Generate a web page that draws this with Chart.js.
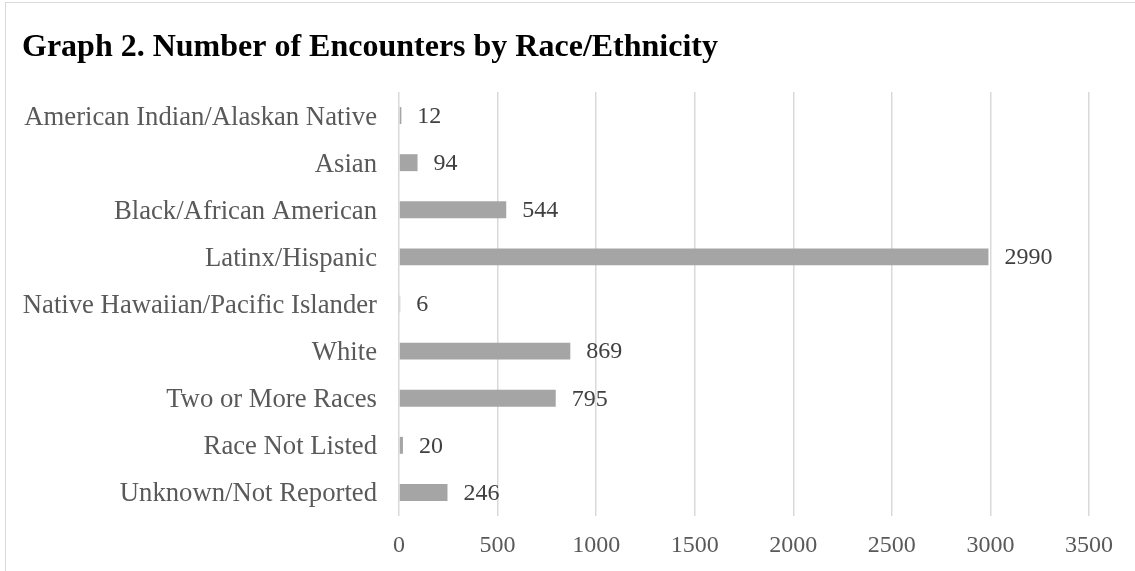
<!DOCTYPE html>
<html>
<head>
<meta charset="utf-8">
<script src="https://cdn.jsdelivr.net/npm/chart.js@4/dist/chart.umd.min.js"></script>
<style>
	html, body { margin: 0; padding: 0; overflow: hidden; background: #fff; }
	#frame { position: absolute; left: 5px; top: 2px; width: 1200px; height: 620px; border: 1.5px solid #d9d9d9; }
	#wrap { position: absolute; left: 0; top: 0; width: 1135px; height: 571px; }
</style>
</head>
<body>
<div id="frame"></div>
<div id="wrap"><canvas id="chart" width="1135" height="571"></canvas></div>
<script>
	const categories = [
		"American Indian/Alaskan Native",
		"Asian",
		"Black/African American",
		"Latinx/Hispanic",
		"Native Hawaiian/Pacific Islander",
		"White",
		"Two or More Races",
		"Race Not Listed",
		"Unknown/Not Reported",
	];
	const encounters = [12, 94, 544, 2990, 6, 869, 795, 20, 246];
	const xTicks = [0, 500, 1000, 1500, 2000, 2500, 3000, 3500];

	const serif = "'Liberation Serif', 'Times New Roman', serif";

	// value labels to the right of each bar
	const barLabels = {
		id: "barLabels",
		afterDatasetsDraw(chart) {
			const ctx = chart.ctx;
			const meta = chart.getDatasetMeta(0);
			ctx.save();
			ctx.font = "24px " + serif;
			ctx.fillStyle = "#404040";
			ctx.textAlign = "left";
			ctx.textBaseline = "middle";
			meta.data.forEach((bar, i) => {
				ctx.fillText(String(encounters[i]), bar.x + 16, bar.y + 1);
			});
			ctx.restore();
		},
	};

	new Chart(document.getElementById("chart"), {
		type: "bar",
		data: {
			labels: categories,
			datasets: [
				{
					label: "Encounters",
					data: encounters,
					backgroundColor: "#a5a5a5",
					categoryPercentage: 1,
					barPercentage: 0.36,
				},
			],
		},
		options: {
			indexAxis: "y",
			responsive: false,
			animation: false,
			layout: { padding: { left: 22, right: 46, top: 0, bottom: 0 } },
			plugins: {
				legend: { display: false },
				tooltip: { enabled: false },
				title: {
					display: true,
					text: "Graph 2. Number of Encounters by Race/Ethnicity",
					align: "start",
					color: "#000",
					font: { family: serif, size: 32, weight: "bold", lineHeight: 1.2 },
					padding: { top: 29, bottom: 24.6 },
				},
			},
			scales: {
				x: {
					min: 0,
					max: 3500,
					afterBuildTicks: (s) => { s.ticks = xTicks.map((v) => ({ value: v })); },
					afterFit: (s) => { s.height = 55; },
					grid: { color: "#d9d9d9", lineWidth: 1.5, drawTicks: false },
					border: { display: false },
					ticks: {
						color: "#595959",
						font: { family: serif, size: 24 },
						padding: 15,
						callback: (v) => String(v),
					},
				},
				y: {
					afterFit: (s) => { s.width = 377; },
					grid: { display: false, drawTicks: false },
					border: { display: false },
					ticks: { color: "#595959", font: { family: serif, size: 26.7 }, padding: 22, labelOffset: 2 },
				},
			},
		},
		plugins: [barLabels],
	});
</script>
</body>
</html>
